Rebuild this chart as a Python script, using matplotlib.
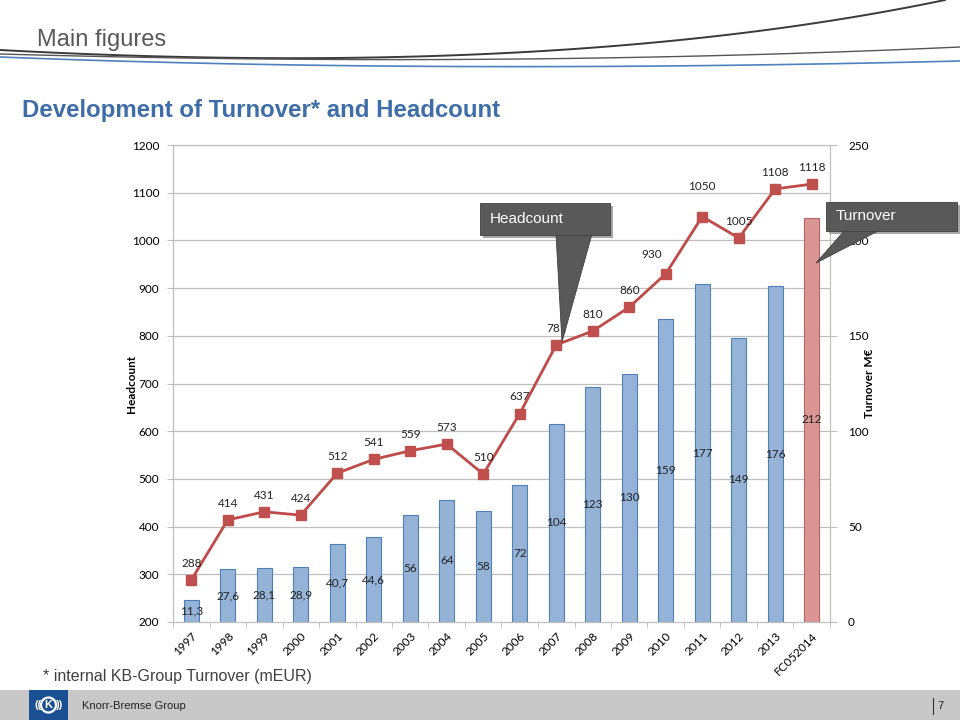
import numpy as np
import matplotlib
matplotlib.use("Agg")
import matplotlib.pyplot as plt
from matplotlib.patches import Polygon, Rectangle, Circle

# data
years = ["1997", "1998", "1999", "2000", "2001", "2002", "2003", "2004", "2005",
         "2006", "2007", "2008", "2009", "2010", "2011", "2012", "2013", "FC052014"]
turnover = [11.3, 27.6, 28.1, 28.9, 40.7, 44.6, 56, 64, 58,
            72, 104, 123, 130, 159, 177, 149, 176, 212]
turnover_labels = ["11,3", "27,6", "28,1", "28,9", "40,7", "44,6", "56", "64", "58",
                   "72", "104", "123", "130", "159", "177", "149", "176", "212"]
headcount = [288, 414, 431, 424, 512, 541, 559, 573, 510,
             637, 781, 810, 860, 930, 1050, 1005, 1108, 1118]

BLUE = "#95B3D7"
BLUE_EDGE = "#4F7FB8"
PINK = "#D99694"
PINK_EDGE = "#B86462"
RED = "#BE4B48"
GRID = "#BFBFBF"
CHART_FONT = ["Lato", "DejaVu Sans"]
SLIDE_FONT = ["Liberation Sans Narrow", "Liberation Sans", "DejaVu Sans"]


def bezier(p0, p1, p2, n=100):
    t = np.linspace(0, 1, n)[:, None]
    p0, p1, p2 = map(np.array, (p0, p1, p2))
    pts = (1 - t) ** 2 * p0 + 2 * (1 - t) * t * p1 + t ** 2 * p2
    return pts[:, 0], pts[:, 1]


fig = plt.figure(figsize=(9.6, 7.2), dpi=100)
fig.patch.set_facecolor("white")

# chart area in pixels: x 173..830, y 145..622
ax = fig.add_axes([173 / 960, 1 - 622 / 720, 657 / 960, 477 / 720])
ax2 = ax.twinx()

x = np.arange(len(years))

# turnover bars (right scale)
bar_colors = [BLUE] * (len(years) - 1) + [PINK]
edge_colors = [BLUE_EDGE] * (len(years) - 1) + [PINK_EDGE]
ax.hlines(np.arange(25, 251, 25), -0.5, len(years) - 0.5, color=GRID, lw=0.9, zorder=0)
ax.bar(x, turnover, width=0.41, color=bar_colors, edgecolor=edge_colors, lw=0.8, zorder=2)
for xi, v, lab in zip(x, turnover, turnover_labels):
    ax.text(xi, v / 2, lab, ha="center", va="center", fontsize=8.5,
            family=CHART_FONT, color="#222222", zorder=3)

ax.set_ylim(0, 250)
ax.set_xlim(-0.5, len(years) - 0.5)
ax.yaxis.tick_right()
ax.yaxis.set_label_position("right")
ax.set_yticks(np.arange(0, 251, 50))
ax.set_ylabel("Turnover M€", fontsize=8.5, fontweight="bold", family=CHART_FONT)
ax.yaxis.set_label_coords(1.051, 0.5)

ax.set_xticks(x)
ax.set_xticklabels(years, rotation=45, ha="right", rotation_mode="anchor",
                   fontsize=8.5, family=CHART_FONT)
ax.set_xticks(np.arange(-0.5, len(years), 1), minor=True)
ax.tick_params(axis="x", which="major", length=0, pad=6)
ax.tick_params(axis="x", which="minor", length=4, color=GRID)
ax.tick_params(axis="y", length=5, color=GRID, labelsize=8.5, pad=8)
for lab in ax.get_yticklabels():
    lab.set_family(CHART_FONT)

# headcount line (left scale)
ax2.plot(x, headcount, color=RED, lw=2, marker="s", ms=7,
         markerfacecolor="#C0504D", markeredgecolor="#C0504D", zorder=4)
offsets = {13: (-10, 10), 14: (0, 18)}
for i, (xi, v) in enumerate(zip(x, headcount)):
    dx, dy = offsets.get(i, (0, 8))
    ax2.annotate(str(v), (xi, v), xytext=(dx, dy), textcoords="offset points",
                 ha="center", va="bottom", fontsize=8.5, family=CHART_FONT,
                 color="#222222", zorder=5)
ax2.set_ylim(200, 1200)
ax2.yaxis.tick_left()
ax2.yaxis.set_label_position("left")
ax2.set_yticks(np.arange(200, 1201, 100))
ax2.tick_params(axis="y", length=4, color=GRID, labelsize=8.5, pad=6)
for lab in ax2.get_yticklabels():
    lab.set_family(CHART_FONT)
ax2.set_ylabel("Headcount", fontsize=8.5, fontweight="bold", family=CHART_FONT)
ax2.yaxis.set_label_coords(-0.055, 0.5)

for a in (ax, ax2):
    for side in ("left", "right", "bottom", "top"):
        a.spines[side].set_color(GRID)
    a.spines["top"].set_visible(True)

# overlay for slide decoration, in pixel coordinates
ov = fig.add_axes([0, 0, 1, 1], zorder=10)
ov.set_xlim(0, 960)
ov.set_ylim(720, 0)
ov.axis("off")
ov.patch.set_visible(False)

# header curves
cx, cy = bezier((0, 50), (560, 80), (945, 0))
ov.plot(cx, cy, color="#3A3A3A", lw=1.4)
cx, cy = bezier((0, 54), (500, 68), (960, 47))
ov.plot(cx, cy, color="#555555", lw=1.0)
cx, cy = bezier((0, 57), (430, 74), (960, 61))
ov.plot(cx, cy, color="#4F81BD", lw=1.2)

ov.text(37, 40, "Main figures", fontsize=17, color="#595959", va="center",
        family=SLIDE_FONT)
ov.text(22, 111, "Development of Turnover* and Headcount", fontsize=17.3,
        fontweight="bold", color="#3E6DA8", va="center", family=SLIDE_FONT)
ov.text(43, 677, "* internal KB-Group Turnover (mEUR)", fontsize=11.5,
        color="#404040", va="center", family=SLIDE_FONT)


# callouts
def callout(box, tail, label):
    x0, y0, x1, y1 = box
    shadow = Polygon([(x0 + 3, y0 + 3), (x1 + 3, y0 + 3), (x1 + 3, y1 + 3), (x0 + 3, y1 + 3)],
                     closed=True, facecolor="#A6A6A6", edgecolor="none")
    ov.add_patch(shadow)
    ov.add_patch(Polygon(tail, closed=True, facecolor="#595959", edgecolor="#404040", lw=0.6))
    ov.add_patch(Polygon([(x0, y0), (x1, y0), (x1, y1), (x0, y1)], closed=True,
                         facecolor="#595959", edgecolor="#404040", lw=0.6))
    ov.text(x0 + 10, (y0 + y1) / 2, label, color="white", fontsize=11,
            va="center", family=["Liberation Sans", "DejaVu Sans"])


callout((480, 203, 610, 235), [(556, 234), (592, 234), (562, 342)], "Headcount")
callout((826, 202, 957, 231), [(845, 230), (880, 230), (816, 263)], "Turnover")

# footer bar
ov.add_patch(Rectangle((0, 690), 960, 30, facecolor="#C8C8C8", edgecolor="none"))
ov.add_patch(Rectangle((29, 690), 39, 30, facecolor="#1B4F93", edgecolor="none"))
ov.add_patch(Circle((48.5, 705), 7.5, facecolor="none", edgecolor="white", lw=1.6))
ov.text(48.5, 705.5, "K", color="white", fontsize=8, fontweight="bold",
        ha="center", va="center", family=["Liberation Sans", "DejaVu Sans"])
ov.text(38, 705, "((", color="white", fontsize=8, fontweight="bold",
        ha="center", va="center", family=["Liberation Sans", "DejaVu Sans"])
ov.text(59, 705, "))", color="white", fontsize=8, fontweight="bold",
        ha="center", va="center", family=["Liberation Sans", "DejaVu Sans"])
ov.text(82, 706, "Knorr-Bremse Group", fontsize=8, color="#222222", va="center",
        family=SLIDE_FONT)
ov.plot([933, 933], [698, 714], color="#333333", lw=0.8)
ov.text(937, 706, "7", fontsize=8, color="#222222", va="center",
        family=SLIDE_FONT)

fig.savefig("out.png", dpi=100)
